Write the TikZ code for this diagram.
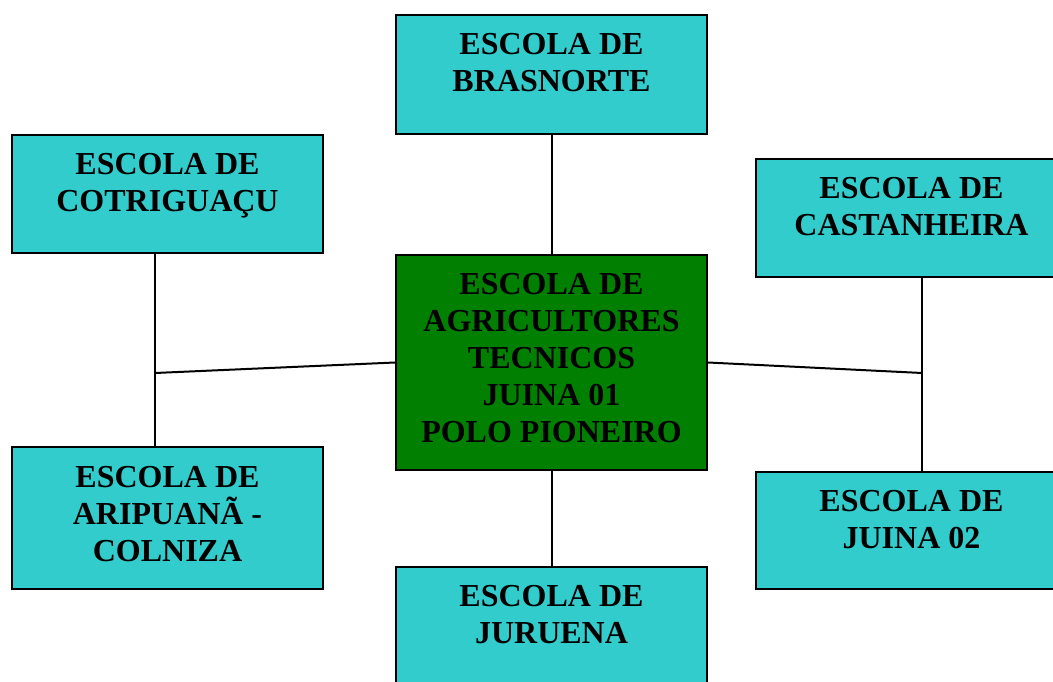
\documentclass[tikz,border=0pt]{standalone}
\usepackage{fontspec}
\setmainfont{Liberation Serif}
\definecolor{boxcyan}{HTML}{33CCCC}
\definecolor{boxgreen}{HTML}{007F00}
\begin{document}
\begin{tikzpicture}[x=1pt,y=-1pt,
  box/.style={draw=black,line width=2pt,fill=boxcyan,minimum width=311pt,anchor=north west,inner sep=0pt},
  hub/.style={box,fill=boxgreen},
  lbl/.style={anchor=north,inner sep=0pt,align=center,font=\bfseries\fontsize{32}{37}\selectfont,text=black},
  link/.style={draw=black,line width=2pt}]
\useasboundingbox (0,0) rectangle (1053,682);
\clip (0,0) rectangle (1053,682);
% boxes
\node[box,minimum height=119pt] (bras) at (395,14) {};
\node[box,minimum height=118pt] (cotr) at (11,134) {};
\node[box,minimum height=118pt] (cast) at (755,158) {};
\node[hub,minimum height=215pt] (center) at (395,254) {};
\node[box,minimum height=142pt] (arip) at (11,446) {};
\node[box,minimum height=117pt] (juin) at (755,471) {};
\node[box,minimum height=120pt] (juru) at (395,566) {};
% connectors
\coordinate (jl) at (155,373);
\coordinate (jr) at (922,373);
\draw[link] (bras.south) -- (center.north);
\draw[link] (center.south) -- (juru.north);
\draw[link] (jl |- cotr.south) -- (jl |- arip.north);
\draw[link] (jl) -- (center.west);
\draw[link] (center.east) -- (jr);
\draw[link] (jr |- cast.south) -- (jr |- juin.north);
% labels
\node[lbl] (tbras) at ([yshift=-18.8pt]bras.north) {ESCOLA DE\\BRASNORTE};
\node[lbl] (tcotr) at ([yshift=-18.8pt]cotr.north) {ESCOLA DE\\COTRIGUAÇU};
\node[lbl] (tcast) at ([yshift=-18.8pt]cast.north) {ESCOLA DE\\CASTANHEIRA};
\node[lbl] (tcenter) at ([yshift=-18.8pt]center.north) {ESCOLA DE\\AGRICULTORES\\TECNICOS\\JUINA 01\\POLO PIONEIRO};
\node[lbl] (tarip) at ([yshift=-19.8pt]arip.north) {ESCOLA DE\\ARIPUANÃ -\\COLNIZA};
\node[lbl] (tjuin) at ([yshift=-18.8pt]juin.north) {ESCOLA DE\\JUINA 02};
\node[lbl] (tjuru) at ([yshift=-18.8pt]juru.north) {ESCOLA DE\\JURUENA};
\end{tikzpicture}
\end{document}
